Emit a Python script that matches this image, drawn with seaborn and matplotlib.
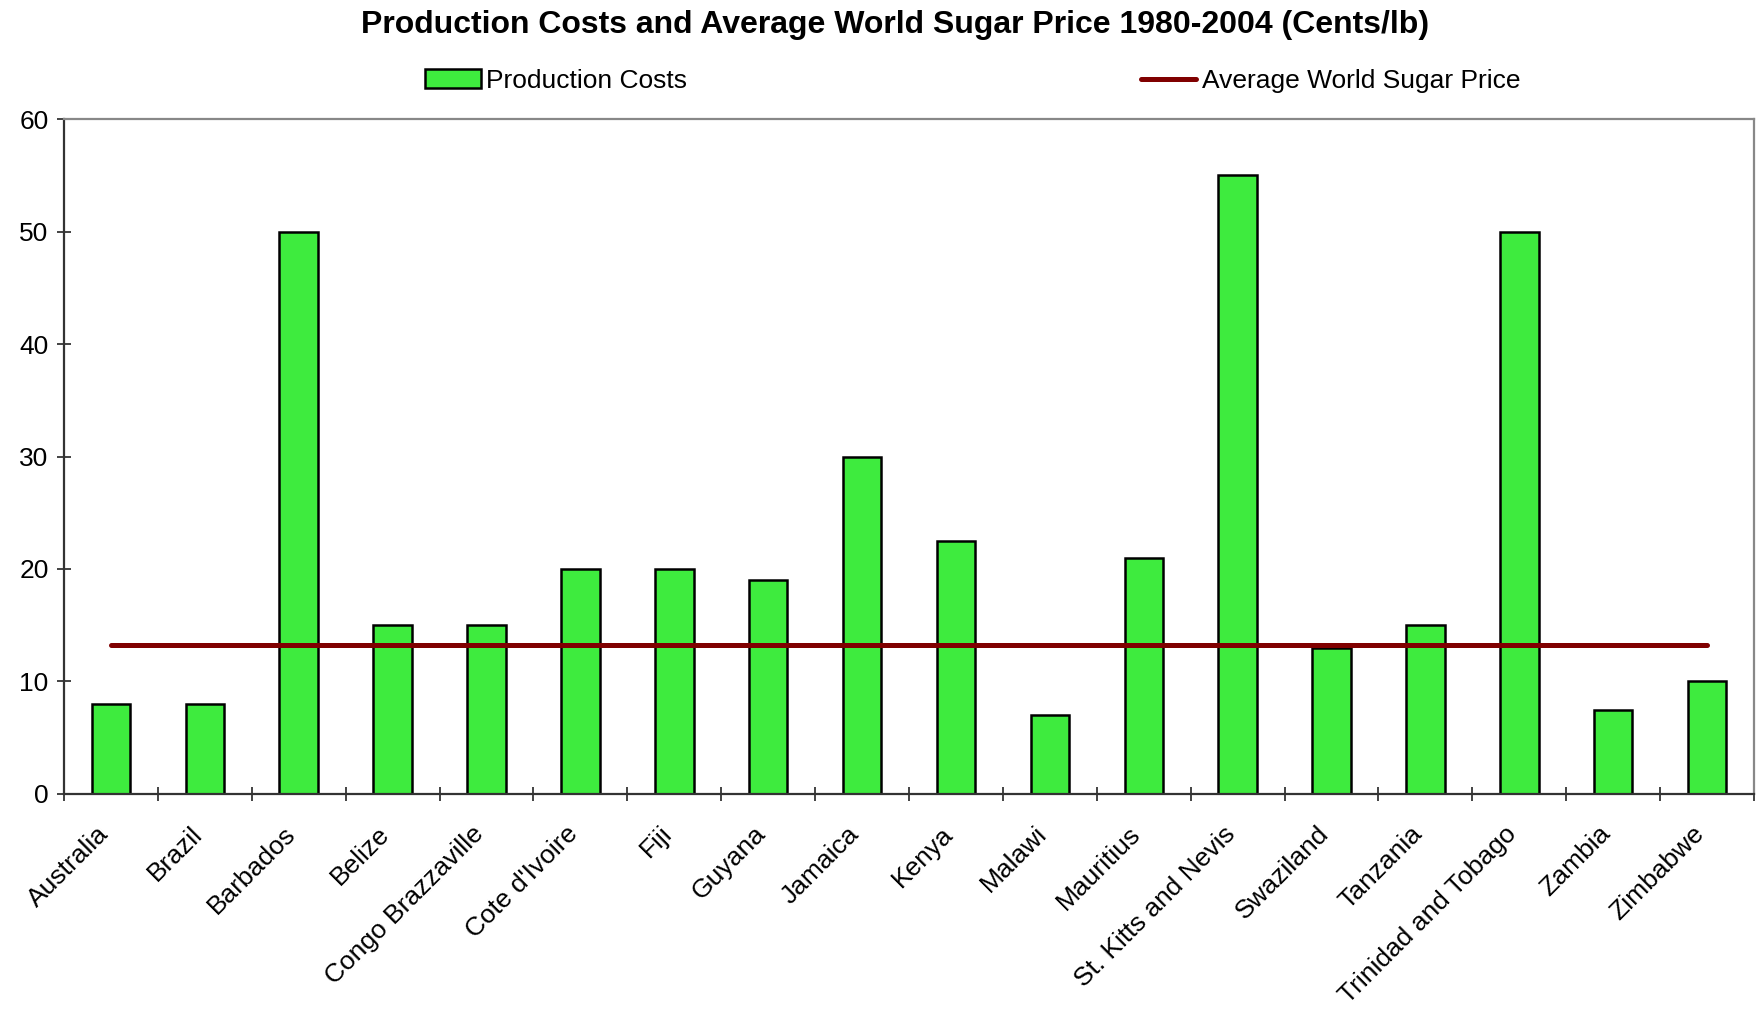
import matplotlib
matplotlib.use("Agg")
import matplotlib.pyplot as plt
import matplotlib.transforms as mtransforms
import seaborn as sns
import pandas as pd
import numpy as np

# -----------------------------
# Data
# -----------------------------
countries = ['Australia', 'Brazil', 'Barbados', 'Belize', 'Congo Brazzaville',
             "Cote d'Ivoire", 'Fiji', 'Guyana', 'Jamaica', 'Kenya', 'Malawi',
             'Mauritius', 'St. Kitts and Nevis', 'Swaziland', 'Tanzania',
             'Trinidad and Tobago', 'Zambia', 'Zimbabwe']
production_costs = [8, 8, 50, 15, 15, 20, 20, 19, 30, 22.5, 7, 21, 55, 13, 15, 50, 7.5, 10]
avg_world_price = [13.2] * len(countries)
y_ticks = [0, 10, 20, 30, 40, 50, 60]

df = pd.DataFrame({'Country': countries,
                   'Production Costs': production_costs,
                   'Average World Sugar Price': avg_world_price})

sns.set_style("white")
plt.rcParams['font.family'] = ['Liberation Sans', 'DejaVu Sans']
plt.rcParams['text.color'] = 'black'
plt.rcParams['xtick.color'] = 'black'
plt.rcParams['ytick.color'] = 'black'
plt.rcParams['xtick.bottom'] = True
plt.rcParams['ytick.left'] = True

fig = plt.figure(figsize=(17.62, 10.10), dpi=100)
ax = fig.add_axes([0.0363, 0.214, 0.9592, 0.668])

bar_green = '#3EEB3E'
line_red = '#800000'

sns.barplot(data=df, x='Country', y='Production Costs', color=bar_green,
            edgecolor='black', linewidth=1.8, width=0.41, saturation=1,
            ax=ax, label='Production Costs')
sns.lineplot(data=df, x='Country', y='Average World Sugar Price', color=line_red,
             linewidth=3.6, sort=False, ax=ax, label='Average World Sugar Price')

ax.set_xlim(-0.5, len(countries) - 0.5)
ax.set_ylim(0, 60)
ax.set_yticks(y_ticks)
ax.set_xlabel('')
ax.set_ylabel('')

# category labels, ticks at category boundaries
ax.set_xticks(range(len(countries)))
ax.set_xticklabels(countries, rotation=45, ha='right', rotation_mode='anchor', fontsize=19)
ax.set_xticks(np.arange(-0.5, len(countries), 1), minor=True)
ax.tick_params(axis='x', which='major', length=0, pad=20)
ax.tick_params(axis='x', which='minor', direction='inout', length=10, width=1.2, color='#222222')
ax.tick_params(axis='y', direction='inout', length=10, width=1.2, color='#222222', pad=6, labelsize=19)

# nudge rotated labels a bit left, like the original
shift = mtransforms.ScaledTranslation(-0.15, 0, fig.dpi_scale_trans)
for tick in ax.xaxis.get_major_ticks():
    tick.label1.set_transform(tick.label1.get_transform() + shift)

for side in ['left', 'bottom']:
    ax.spines[side].set_color('#333333')
    ax.spines[side].set_linewidth(1.6)
for side in ['top', 'right']:
    ax.spines[side].set_color('#888888')
    ax.spines[side].set_linewidth(1.6)

ax.get_legend().remove()
handles, labels = ax.get_legend_handles_labels()
order = [labels.index('Production Costs'), labels.index('Average World Sugar Price')]
fig.legend([handles[i] for i in order], [labels[i] for i in order],
           loc='center', bbox_to_anchor=(0.552, 0.92), ncol=2,
           frameon=False, fontsize=19, handlelength=2.1, handleheight=0.7,
           handletextpad=0.2, columnspacing=17.2)

fig.suptitle('Production Costs and Average World Sugar Price 1980-2004 (Cents/lb)',
             x=0.508, y=0.99, fontsize=23, fontweight='bold')

plt.savefig('out.png', dpi=100)
